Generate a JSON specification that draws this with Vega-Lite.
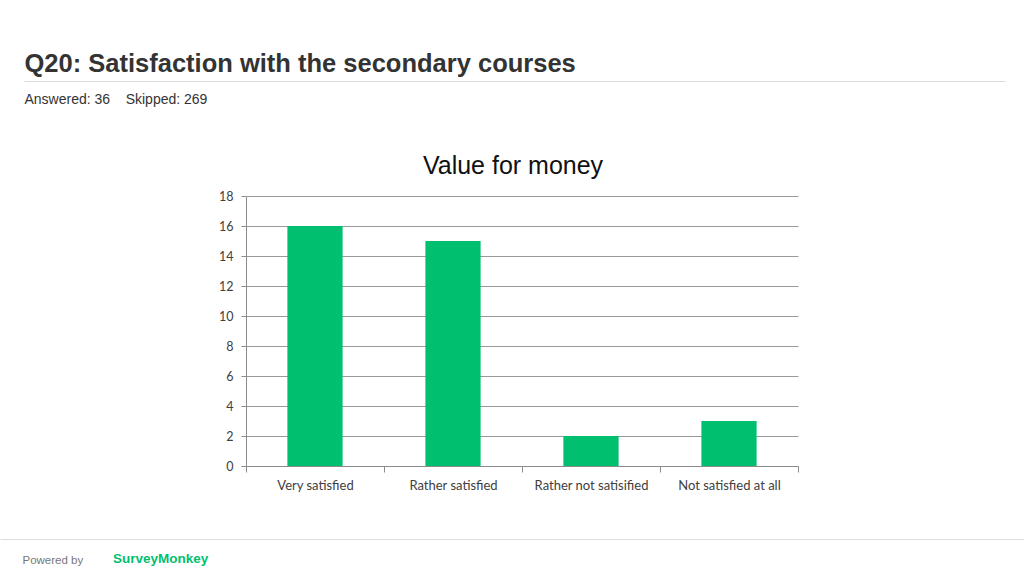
{
  "$schema": "https://vega.github.io/schema/vega-lite/v6.json",
  "width": 552,
  "height": 270,
  "autosize": {"type": "none"},
  "padding": {"left": 246, "top": 196, "right": 226, "bottom": 110},
  "background": "#ffffff",
  "title": {
    "text": "SurveyMonkey",
    "orient": "bottom",
    "anchor": "start",
    "frame": "group",
    "dx": -133,
    "dy": -3,
    "offset": 0,
    "baseline": "alphabetic",
    "font": "Liberation Sans",
    "fontSize": 13.5,
    "fontWeight": "bold",
    "color": "#00bf6f"
  },
  "data": {
    "values": [
      {"category": "Very satisfied", "count": 16},
      {"category": "Rather satisfied", "count": 15},
      {"category": "Rather not satisified", "count": 2},
      {"category": "Not satisfied at all", "count": 3}
    ]
  },
  "resolve": {"scale": {"x": "independent"}, "axis": {"x": "independent"}},
  "layer": [
    {
      "mark": {"type": "bar", "color": "#00bf6f", "width": {"band": 0.4}},
      "encoding": {
        "x": {
          "field": "category",
          "type": "nominal",
          "sort": null,
          "scale": {"paddingInner": 0, "paddingOuter": 0},
          "axis": {
            "title": "Answered: 36\u00a0\u00a0\u00a0\u00a0Skipped: 269",
            "titleX": -222,
            "titleY": -363,
            "titleAlign": "left",
            "titleAnchor": "start",
            "titleBaseline": "alphabetic",
            "titleAngle": 0,
            "titleFont": "Liberation Sans",
            "titleFontSize": 14,
            "titleFontWeight": "normal",
            "titleColor": "#333333",
            "labelAngle": 0,
            "labelFont": "Lato",
            "labelFontSize": 13,
            "labelColor": "#404040",
            "labelPadding": 7,
            "tickBand": "extent",
            "tickSize": 6,
            "tickColor": "#8c8c8c",
            "domainColor": "#8c8c8c",
            "grid": false
          }
        },
        "y": {
          "field": "count",
          "type": "quantitative",
          "scale": {"domain": [0, 18], "nice": false},
          "axis": {
            "values": [0, 2, 4, 6, 8, 10, 12, 14, 16, 18],
            "title": "Value for money",
            "titleX": 266.5,
            "titleY": -23,
            "titleAngle": 0,
            "titleAlign": "center",
            "titleBaseline": "alphabetic",
            "titleFont": "Liberation Sans",
            "titleFontSize": 25,
            "titleFontWeight": "normal",
            "titleColor": "#111111",
            "labelFont": "Lato",
            "labelFontSize": 12.5,
            "labelColor": "#404040",
            "labelPadding": 8,
            "tickSize": 5,
            "tickColor": "#8c8c8c",
            "domainColor": "#8c8c8c",
            "grid": true,
            "gridColor": "#999999",
            "gridWidth": 1
          }
        }
      }
    },
    {
      "mark": {"type": "rule", "opacity": 0},
      "encoding": {
        "x": {
          "field": "count",
          "type": "quantitative",
          "scale": {"range": [-222, 759]},
          "axis": {
            "orient": "top",
            "offset": 115,
            "labels": false,
            "ticks": false,
            "grid": false,
            "domainColor": "#dddddd",
            "title": "Q20: Satisfaction with the secondary courses",
            "titleX": -222,
            "titleY": -10,
            "titleAlign": "left",
            "titleAnchor": "start",
            "titleBaseline": "alphabetic",
            "titleFont": "Liberation Sans",
            "titleFontSize": 25.5,
            "titleFontWeight": "bold",
            "titleColor": "#333333"
          }
        }
      }
    },
    {
      "mark": {"type": "rule", "opacity": 0},
      "encoding": {
        "x": {
          "field": "count",
          "type": "quantitative",
          "scale": {"range": [-246, 778]},
          "axis": {
            "orient": "bottom",
            "offset": 73,
            "labels": false,
            "ticks": false,
            "grid": false,
            "domainColor": "#dddddd",
            "title": "Powered by",
            "titleX": -224,
            "titleY": 24,
            "titleAlign": "left",
            "titleAnchor": "start",
            "titleBaseline": "alphabetic",
            "titleFont": "Liberation Sans",
            "titleFontSize": 11.5,
            "titleFontWeight": "normal",
            "titleColor": "#777777"
          }
        }
      }
    }
  ],
  "config": {"view": {"stroke": null}}
}
